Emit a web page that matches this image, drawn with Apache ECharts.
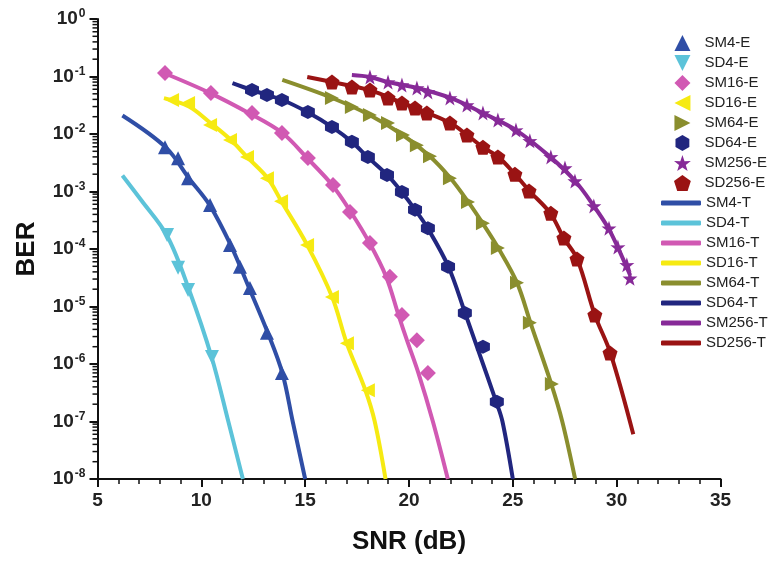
<!DOCTYPE html>
<html>
<head>
<meta charset="utf-8">
<script src="https://cdn.jsdelivr.net/npm/echarts@6/dist/echarts.min.js"></script>
<style>html,body{margin:0;padding:0;background:#fff;}#c{width:769px;height:561px;}</style>
</head>
<body>
<div id="c"></div>
<script>
// ---- data: [SNR dB, BER] ----
const SM4_E = [[8.25,5.9e-3],[8.88,3.8e-3],[9.36,1.7e-3],[10.42,5.8e-4],[11.38,1.17e-4],[11.86,4.9e-5],[12.34,2.1e-5],[13.16,3.5e-6],[13.88,7e-7]];
const SD4_E = [[8.35,1.75e-4],[8.88,4.7e-5],[9.36,1.94e-5],[10.51,1.32e-6]];
const SM16_E = [[8.25,0.115],[10.46,0.0516],[12.44,0.0232],[13.88,0.0104],[15.13,3.83e-3],[16.34,1.3e-3],[17.16,4.4e-4],[18.12,1.27e-4],[19.08,3.3e-5],[19.66,7.1e-6],[20.38,2.6e-6],[20.91,7e-7]];
const SD16_E = [[8.59,0.039],[9.36,0.0346],[10.42,0.0143],[11.38,7.9e-3],[12.2,4.0e-3],[13.16,1.7e-3],[13.84,6.8e-4],[15.09,1.17e-4],[16.29,1.46e-5],[17.01,2.3e-6],[18.02,3.5e-7]];
const SM64_E = [[16.29,0.0423],[17.25,0.0295],[18.12,0.0214],[18.99,0.0155],[19.71,9.6e-3],[20.38,6.4e-3],[21.01,4.1e-3],[21.97,1.7e-3],[22.84,6.6e-4],[23.56,2.8e-4],[24.28,1.04e-4],[25.2,2.6e-5],[25.82,5.2e-6],[26.88,4.5e-7]];
const SD64_E = [[12.44,0.058],[13.16,0.0477],[13.88,0.039],[15.13,0.0241],[16.29,0.0132],[17.25,7.3e-3],[18.02,4.0e-3],[18.94,1.94e-3],[19.66,9.8e-4],[20.29,4.8e-4],[20.91,2.3e-4],[21.88,4.9e-5],[22.69,7.7e-6],[23.56,2.0e-6],[24.23,2.2e-7]];
const SM256_E = [[18.12,0.098],[18.99,0.080],[19.66,0.071],[20.38,0.063],[20.91,0.054],[21.97,0.0423],[22.79,0.0319],[23.56,0.0232],[24.28,0.0175],[25.15,0.0117],[25.82,7.6e-3],[26.83,4.0e-3],[27.51,2.56e-3],[27.99,1.52e-3],[28.9,5.6e-4],[29.63,2.3e-4],[30.06,1.08e-4],[30.49,5.3e-5],[30.64,3.1e-5]];
const SD256_E = [[16.29,0.080],[17.25,0.0657],[18.12,0.058],[18.99,0.0423],[19.66,0.0346],[20.29,0.0283],[20.86,0.0232],[21.97,0.0155],[22.79,9.6e-3],[23.56,5.9e-3],[24.28,4.0e-3],[25.1,2.0e-3],[25.78,1.02e-3],[26.83,4.2e-4],[27.46,1.55e-4],[28.09,6.7e-5],[28.95,7.1e-6],[29.68,1.55e-6]];

const SM4_T = [[6.2,2.1e-2],[8.3,5.8e-3],[9.4,1.7e-3],[10.4,5.8e-4],[11.4,1.2e-4],[12.3,2.1e-5],[13.2,3.5e-6],[13.9,7e-7],[14.4,1e-7],[15.0,1e-8]];
const SD4_T = [[6.2,1.9e-3],[7.1,7.1e-4],[8.35,1.7e-4],[9.4,2e-5],[10.5,1.3e-6],[11.3,1e-7],[12.0,1e-8]];
const SM16_T = [[8.2,0.115],[10.4,0.052],[12.3,0.023],[13.9,0.0104],[15.1,3.8e-3],[16.3,1.3e-3],[17.2,4.4e-4],[18.1,1.27e-4],[18.9,3.3e-5],[19.5,7e-6],[19.9,2.6e-6],[20.45,7e-7],[21.15,1e-7],[21.87,1e-8]];
const SD16_T = [[8.2,0.042],[9.4,0.03],[10.4,0.016],[11.4,8e-3],[12.2,4e-3],[13.2,1.7e-3],[13.85,6.8e-4],[15.1,1.17e-4],[16.3,1.46e-5],[17.0,2.3e-6],[17.9,3.5e-7],[18.35,1e-7],[18.87,1e-8]];
const SM64_T = [[13.9,0.087],[16.3,0.0423],[18.1,0.0214],[19.7,9.6e-3],[21.0,4.1e-3],[22.0,1.7e-3],[22.85,6.6e-4],[23.55,2.8e-4],[24.3,1.04e-4],[25.2,2.6e-5],[25.85,5.2e-6],[26.85,4.5e-7],[27.38,1e-7],[28.0,1e-8]];
const SD64_T = [[11.5,0.077],[12.45,0.058],[13.9,0.039],[15.1,0.0241],[16.3,0.0132],[17.25,7.3e-3],[18.0,4e-3],[18.95,1.94e-3],[19.65,9.8e-4],[20.3,4.8e-4],[20.9,2.3e-4],[21.9,4.9e-5],[22.7,7.7e-6],[23.27,2e-6],[24.2,2.2e-7],[24.5,1e-7],[25.0,1e-8]];
const SM256_T = [[17.25,0.106],[18.1,0.098],[19.0,0.08],[20.4,0.063],[22.0,0.0423],[23.55,0.0232],[25.15,0.0117],[26.8,4e-3],[28.0,1.52e-3],[28.9,5.6e-4],[29.6,2.3e-4],[30.05,1.08e-4],[30.65,3.5e-5]];
const SD256_T = [[15.1,0.098],[16.3,0.08],[18.1,0.058],[19.7,0.0346],[20.9,0.0232],[22.0,0.0155],[22.8,9.6e-3],[23.55,5.9e-3],[24.3,4e-3],[25.1,2e-3],[25.8,1.02e-3],[26.8,4.2e-4],[27.45,1.55e-4],[28.1,6.7e-5],[28.95,7.1e-6],[29.7,1.55e-6],[30.8,6e-8]];

const xTicks = [5, 10, 15, 20, 25, 30, 35];
const yDecades = [-8, -7, -6, -5, -4, -3, -2, -1, 0];
const yMinorMult = [2, 3, 4, 5, 6, 7, 8, 9];
const expNames = ['SM4-E','SD4-E','SM16-E','SD16-E','SM64-E','SD64-E','SM256-E','SD256-E'];
const theoNames = ['SM4-T','SD4-T','SM16-T','SD16-T','SM64-T','SD64-T','SM256-T','SD256-T'];

// ---- styles ----
const FONT = 'Liberation Sans, Arial, sans-serif';
const C = {SM4:'#2F4EA6', SD4:'#5CC3D9', SM16:'#D159B3', SD16:'#F6EA12', SM64:'#8A8E2E', SD64:'#21267F', SM256:'#872A98', SD256:'#9A1313'};
const TRI_UP = 'path://M50,0 L100,100 L0,100 Z';
const TRI_DOWN = 'path://M0,0 L100,0 L50,100 Z';
const TRI_LEFT = 'path://M0,50 L100,0 L100,100 Z';
const TRI_RIGHT = 'path://M100,50 L0,0 L0,100 Z';
const DIAM = 'path://M50,0 L100,50 L50,100 L0,50 Z';
const HEX = 'path://M50,0 L93.3,25 L93.3,75 L50,100 L6.7,75 L6.7,25 Z';
const STAR = 'path://M50,0 L61.8,35.1 L97.6,34.5 L69.1,56.7 L79.4,90.5 L50,70.2 L20.6,90.5 L30.9,56.7 L2.4,34.5 L38.2,35.1 Z';
const PENT = 'path://M50,0 L97.6,34.5 L79.4,90.5 L20.6,90.5 L2.4,34.5 Z';

function sc(name, data, color, symbol, size) {
  return {name, type:'scatter', data, symbol, symbolSize:size, z:4,
    itemStyle:{color, opacity:1}, emphasis:{disabled:true}};
}
function ln(name, data, color) {
  return {name, type:'line', data, symbol:'none', smooth:0.35, z:3,
    lineStyle:{color, width:4}, itemStyle:{color}, emphasis:{disabled:true}};
}

const minorTicks = [];
yDecades.slice(0, -1).forEach(d => yMinorMult.forEach(m => minorTicks.push([5, m * Math.pow(10, d)])));

const series = [
  sc('SM4-E', SM4_E, C.SM4, TRI_UP, 14),
  sc('SD4-E', SD4_E, C.SD4, TRI_DOWN, 14),
  sc('SM16-E', SM16_E, C.SM16, DIAM, 16),
  sc('SD16-E', SD16_E, C.SD16, TRI_LEFT, 14),
  sc('SM64-E', SM64_E, C.SM64, TRI_RIGHT, 14),
  sc('SD64-E', SD64_E, C.SD64, HEX, 14),
  sc('SM256-E', SM256_E, C.SM256, STAR, 15),
  sc('SD256-E', SD256_E, C.SD256, PENT, 15),
  ln('SM4-T', SM4_T, C.SM4),
  ln('SD4-T', SD4_T, C.SD4),
  ln('SM16-T', SM16_T, C.SM16),
  ln('SD16-T', SD16_T, C.SD16),
  ln('SM64-T', SM64_T, C.SM64),
  ln('SD64-T', SD64_T, C.SD64),
  ln('SM256-T', SM256_T, C.SM256),
  ln('SD256-T', SD256_T, C.SD256),
  {type:'custom', name:'ytick', silent:true, clip:false, z:5, data:minorTicks,
   renderItem:(params, api) => {
     const p = api.coord([api.value(0), api.value(1)]);
     return {type:'line', shape:{x1:p[0]-5, y1:p[1], x2:p[0], y2:p[1]}, style:{stroke:'#111', lineWidth:1.5}};
   }}
];

const legendText = {fontFamily:FONT, fontSize:15, color:'#222', lineHeight:16};

const chart = echarts.init(document.getElementById('c'), null, {renderer:'canvas'});
chart.setOption({
  animation:false,
  backgroundColor:'#fff',
  grid:{left:97.5, right:48.5, top:19, bottom:82, containLabel:false},
  xAxis:{type:'value', min:xTicks[0], max:xTicks[xTicks.length-1], interval:5,
    name:'SNR (dB)', nameLocation:'middle', nameGap:50,
    nameTextStyle:{fontFamily:FONT, fontWeight:'bold', fontSize:26, color:'#111'},
    axisLine:{lineStyle:{color:'#111', width:2}},
    axisTick:{length:8, inside:false, lineStyle:{color:'#111', width:2}},
    minorTick:{show:true, splitNumber:5, length:5, lineStyle:{color:'#111', width:1.5}},
    splitLine:{show:false},
    axisLabel:{fontFamily:FONT, fontWeight:'bold', fontSize:19, color:'#222', margin:12}},
  yAxis:{type:'log', logBase:10, min:1e-8, max:1, splitNumber:8,
    name:'BER', nameLocation:'middle', nameGap:58, nameRotate:90,
    nameTextStyle:{fontFamily:FONT, fontWeight:'bold', fontSize:26, color:'#111'},
    axisLine:{show:true, onZero:false, lineStyle:{color:'#111', width:2}},
    axisTick:{show:true, length:8, inside:false, lineStyle:{color:'#111', width:2}},
    minorTick:{show:false},
    splitLine:{show:false},
    axisLabel:{margin:12, color:'#222',
      formatter:v => '{b|10}{s|' + Math.round(Math.log10(v)) + '}',
      rich:{b:{fontFamily:FONT, fontWeight:'bold', fontSize:19, color:'#222', lineHeight:22},
            s:{fontFamily:FONT, fontWeight:'bold', fontSize:12, color:'#222', verticalAlign:'top', lineHeight:22, padding:[0,0,8,1]}}}},
  legend:[
    {orient:'vertical', left:669, top:30, itemWidth:18, itemHeight:16, itemGap:4,
     textStyle:Object.assign({padding:[0,0,0,8]}, legendText), data:expNames},
    {orient:'vertical', left:656, top:190, itemWidth:40, itemHeight:5, itemGap:4, icon:'roundRect',
     textStyle:legendText, data:theoNames}
  ],
  series
});
</script>
</body>
</html>
